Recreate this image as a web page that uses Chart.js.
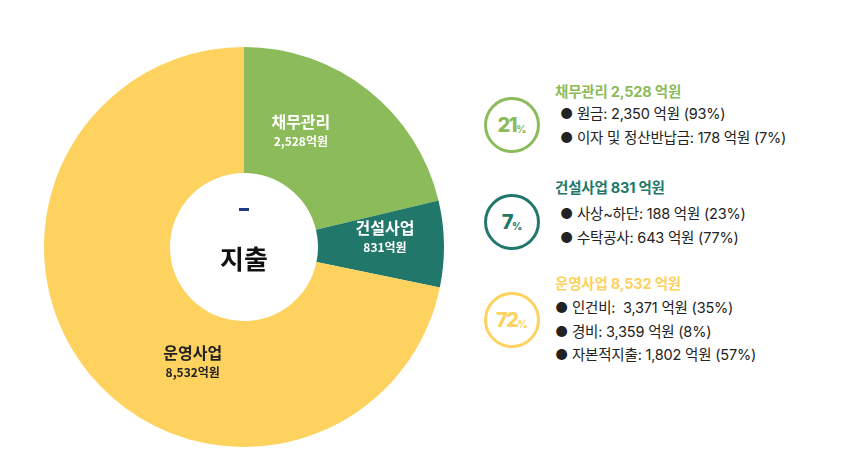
<!DOCTYPE html>
<html><head><meta charset="utf-8">
<script src="https://cdn.jsdelivr.net/npm/chart.js@4"></script>
<style>
body{margin:0;width:860px;height:460px;background:#fff;font-family:Inter,"Noto Sans CJK KR","Noto Sans",sans-serif;position:relative;overflow:hidden}
#wrap{position:absolute;left:44px;top:47px;width:400px;height:400px}
.ring{position:absolute;width:50px;height:50px;border-radius:50%;border:3.5px solid;display:flex;align-items:center;justify-content:center;font-weight:800;font-size:20px;letter-spacing:-1.5px}
.ring small{font-size:10px;margin-top:7px;letter-spacing:0}
.hd{position:absolute;left:555px;font-weight:700;font-size:14.5px;letter-spacing:-0.2px}
.ln{position:absolute;left:560px;font-size:14.5px;color:#222;letter-spacing:-0.2px}
</style></head><body>
<div id="wrap"><canvas id="c" width="400" height="400"></canvas></div>
<div id="side"></div>
<script>
const categories = ['채무관리', '건설사업', '운영사업'];
const amounts = [2528, 831, 8532];
const amountLabels = ['2,528억원', '831억원', '8,532억원'];
const colors = ['#8cbb5a', '#21786a', '#fdd25e'];
const percents = ['21', '7', '72'];
const details = [
  ['원금: 2,350 억원 (93%)', '이자 및 정산반납금: 178 억원 (7%)'],
  ['사상~하단: 188 억원 (23%)', '수탁공사: 643 억원 (77%)'],
  ['인건비:  3,371 억원 (35%)', '경비: 3,359 억원 (8%)', '자본적지출: 1,802 억원 (57%)']
];

// side legend
const side = document.getElementById('side');
const headTops = [80, 176, 272];
const lineTops = [[102, 126], [202, 226], [296, 320, 343]];
const ringTops = [97, 194, 292];
categories.forEach((c, i) => {
  side.innerHTML += `<div class="ring" style="left:484px;top:${ringTops[i]}px;border-color:${colors[i]};color:${colors[i]}">${percents[i]}<small>%</small></div>`;
  side.innerHTML += `<div class="hd" style="top:${headTops[i]}px;color:${colors[i]}">${c} ${amounts[i].toLocaleString()} 억원</div>`;
  details[i].forEach((d, j) => {
    side.innerHTML += `<div class="ln" style="top:${lineTops[i][j]}px;left:${i == 2 ? 555 : 560}px">● ${d.replace('  ', '&nbsp; ')}</div>`;
  });
});

// nudges from the arc centre to where the reference puts each label
const nudgeX = [-28, 4, 55];
const nudgeY = [-8, -8, -12];

const sliceLabels = {
  id: 'sliceLabels',
  afterDatasetsDraw(chart) {
    const ctx = chart.ctx;
    const meta = chart.getDatasetMeta(0);
    ctx.save();
    ctx.textAlign = 'center';
    meta.data.forEach((arc, i) => {
      const p = arc.tooltipPosition();
      const x = p.x + nudgeX[i], y = p.y + nudgeY[i] + (i == 2 ? 40 : 0);
      ctx.fillStyle = i === 2 ? '#222' : '#fff';
      ctx.font = 'bold 16px "Noto Sans CJK KR"';
      ctx.fillText(categories[i], x, y - 3);
      ctx.font = 'bold 12px "Noto Sans CJK KR"';
      ctx.fillText(amountLabels[i], x, y + 15);
    });
    const cx = chart.chartArea.left + chart.chartArea.width / 2;
    const cy = chart.chartArea.top + chart.chartArea.height / 2;
    ctx.fillStyle = '#1f3a8a';
    ctx.fillRect(cx - 5, cy - 39, 10, 3);
    ctx.fillStyle = '#111';
    ctx.font = 'bold 26px "Noto Sans CJK KR"';
    ctx.textBaseline = 'middle';
    ctx.fillText('지출', cx, cy + 12);
    ctx.restore();
  }
};

new Chart(document.getElementById('c').getContext('2d'), {
  type: 'doughnut',
  data: {
    labels: categories,
    datasets: [{ data: amounts, backgroundColor: colors, borderWidth: 0 }]
  },
  options: {
    responsive: false,
    animation: false,
    cutout: '37%',
    plugins: { legend: { display: false }, tooltip: { enabled: false } }
  },
  plugins: [sliceLabels]
});
</script>
</body></html>
